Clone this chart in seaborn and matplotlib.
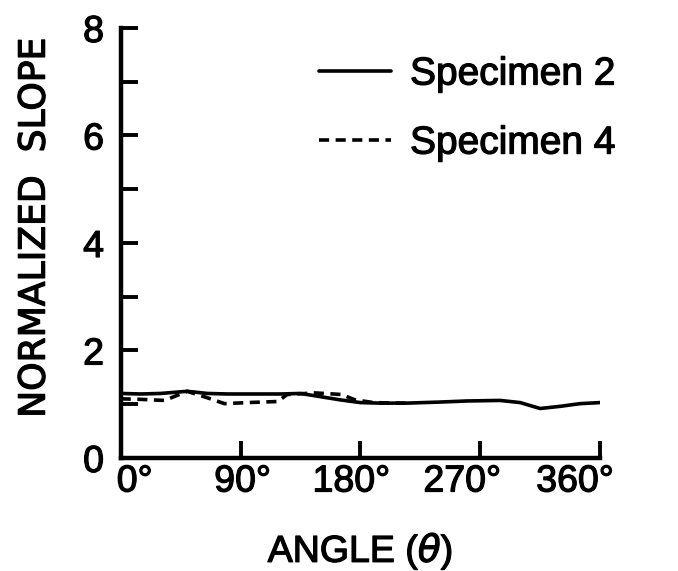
import matplotlib
matplotlib.use("Agg")
import matplotlib.pyplot as plt
import matplotlib.patheffects as pe
import matplotlib.transforms as mtransforms
import seaborn as sns
import pandas as pd
from matplotlib.ticker import MultipleLocator

# Data
angle_s2 = [0, 15, 30, 50, 65, 80, 100, 120, 135, 150, 165, 180, 195, 215, 240, 260, 285, 300, 315, 330, 345, 360]
slope_s2 = [1.20, 1.19, 1.20, 1.24, 1.20, 1.19, 1.19, 1.19, 1.20, 1.14, 1.08, 1.03, 1.02, 1.02, 1.04, 1.06, 1.07, 1.03, 0.92, 0.96, 1.01, 1.03]
angle_s4 = [0, 15, 33, 50, 65, 78, 95, 118, 125, 146, 166, 176, 190, 205, 215]
slope_s4 = [1.10, 1.09, 1.07, 1.24, 1.12, 1.01, 1.03, 1.05, 1.18, 1.21, 1.18, 1.08, 1.03, 1.02, 1.02]
series_names = ["Specimen 2", "Specimen 4"]
x_ticks = [0, 90, 180, 270, 360]
x_ticklabels = ["0°", "90°", "180°", "270°", "360°"]
y_ticks = [0, 2, 4, 6, 8]

sns.set_style("ticks")
plt.rcParams['font.family'] = ['Liberation Sans', 'DejaVu Sans']
plt.rcParams['text.color'] = 'black'
plt.rcParams['axes.labelcolor'] = 'black'

df = pd.concat([
    pd.DataFrame({"angle": angle_s2, "slope": slope_s2, "series": series_names[0]}),
    pd.DataFrame({"angle": angle_s4, "slope": slope_s4, "series": series_names[1]}),
])

fig = plt.figure(figsize=(6.78, 5.71), dpi=100)
ax = fig.add_axes([0.178, 0.198, 0.707, 0.753])

sns.lineplot(data=df, x="angle", y="slope", hue="series", style="series",
             palette=["black", "black"],
             dashes={series_names[0]: "", series_names[1]: (2.8, 1.8)},
             linewidth=2.6, sort=False, ax=ax, legend=True)

ax.set_xlim(0, 360)
ax.set_ylim(0, 8)
ax.set_xticks(x_ticks)
ax.set_xticklabels(x_ticklabels)
ax.set_yticks(y_ticks)
ax.yaxis.set_minor_locator(MultipleLocator(1))

for s in ["top", "right"]:
    ax.spines[s].set_visible(False)
for s in ["left", "bottom"]:
    ax.spines[s].set_linewidth(3.2)
    ax.spines[s].set_color("black")

ax.tick_params(axis="both", which="both", direction="in", length=12, width=2.8,
               colors="black", labelsize=27)
ax.tick_params(axis="y", which="both", pad=12)
ax.tick_params(axis="x", which="both", pad=4)

stroke = [pe.withStroke(linewidth=0.9, foreground="black")]
ax.set_xlabel("ANGLE ($\\theta$)", fontsize=27, path_effects=stroke)
ax.xaxis.set_label_coords(0.5, -0.172)
ax.set_ylabel("NORMALIZED  SLOPE", fontsize=26, family=['DejaVu Sans'],
              path_effects=stroke)
ax.yaxis.set_label_coords(-0.144, 0.535)
for t in ax.get_xticklabels() + ax.get_yticklabels():
    t.set_path_effects(stroke)

# hand-lettered label offsets (pixels) as in the reference
label_shift_px = [14, 2, -9, -18, -25]
for t, dx in zip(ax.get_xticklabels(), label_shift_px):
    t.set_transform(t.get_transform() +
                    mtransforms.ScaledTranslation(dx / 100, 0, fig.dpi_scale_trans))

leg = ax.legend(title=None, frameon=False, fontsize=28, loc="upper left",
                bbox_to_anchor=(0.34, 1.015), handlelength=1.85, handletextpad=0.5,
                labelspacing=0.85)
for line in leg.get_lines():
    line.set_linewidth(2.6)
for t in leg.get_texts():
    t.set_path_effects(stroke)

fig.savefig("out.png", dpi=100)
